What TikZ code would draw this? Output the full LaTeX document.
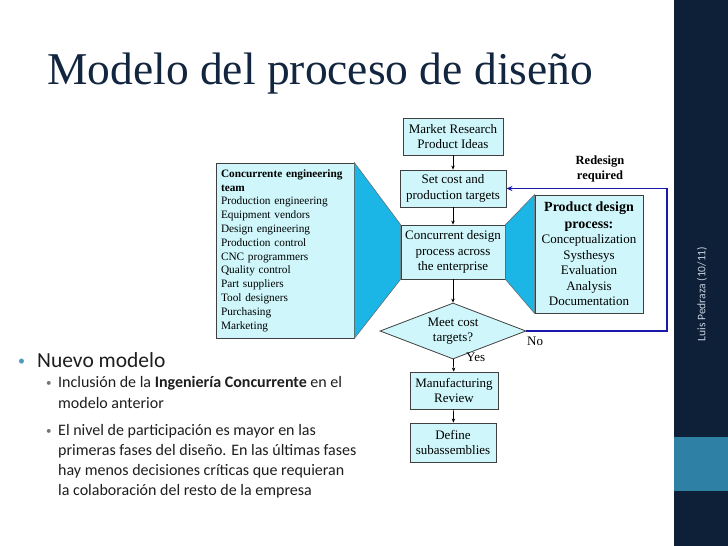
\documentclass[tikz,border=0pt]{standalone}
\usepackage{fontspec}
\setmainfont{Liberation Serif}
\newfontfamily\carlito{Carlito}
\usetikzlibrary{shapes.geometric,arrows.meta}
\definecolor{boxfill}{HTML}{CFF7FB}
\definecolor{trapfill}{HTML}{1BB5E6}
\definecolor{blueline}{HTML}{1A1AAA}
\definecolor{band}{HTML}{0E1F38}
\definecolor{lightblock}{HTML}{2E80A4}
\definecolor{titlecol}{HTML}{132640}
\definecolor{bulletcol}{HTML}{4A9BC1}
\definecolor{bodycol}{HTML}{1E1E1E}
\definecolor{sidecol}{HTML}{C8D2DE}
\tikzset{
  fbox/.style={draw=black!75, line width=0.8pt, fill=boxfill, align=center, inner sep=0pt,
    font=\fontsize{13}{15.5}\selectfont},
  trap/.style={draw=black!60, line width=0.5pt, fill=trapfill},
  flow/.style={draw=black, line width=0.7pt, -{Stealth[length=4pt,width=3.5pt]}},
  back/.style={draw=blueline, line width=1.6pt, -{Stealth[length=6pt,width=5pt]}},
  lbl/.style={inner sep=0pt, font=\fontsize{13}{15.5}\selectfont},
  mainb/.style={anchor=base west, inner sep=0pt, text=bodycol, font=\carlito\fontsize{21.5}{26}\selectfont},
  subb/.style={anchor=base west, inner sep=0pt, text=bodycol, font=\carlito\fontsize{16}{20}\selectfont},
}
\begin{document}
\begin{tikzpicture}[x=1pt,y=-1pt]
\useasboundingbox (0,0) rectangle (728,546);
\fill[white] (0,0) rectangle (728,546);
% right band
\fill[band] (674,0) rectangle (728,546);
\fill[lightblock] (674,437) rectangle (728,491);
\node[rotate=90, text=sidecol, font=\carlito\fontsize{11.5}{13}\selectfont, inner sep=0pt] (side) at (702,294) {Luis Pedraza (10/11)};
% title
\node[anchor=base west, inner sep=0pt, text=titlecol, font=\fontsize{45.5}{50}\selectfont] (title) at (47,84) {Modelo del proceso de diseño};

% flow boxes
\node[fbox, minimum width=100pt, minimum height=37pt] (mr) at (453,136.5) {Market Research\\Product Ideas};
\node[fbox, minimum width=106pt, minimum height=37pt] (sc) at (453,188.5) {Set cost and\\production targets};
\node[fbox, minimum width=104pt, minimum height=54pt] (cd) at (453,252) {Concurrent design\\process across\\the enterprise};
\node[fbox, minimum width=138pt, minimum height=175pt, text width=128pt, align=left,
  font=\fontsize{11.3}{13.8}\selectfont] (team) at (285,250.5)
  {\textbf{Concurrente engineering team}\\Production engineering\\Equipment vendors\\Design engineering\\Production control\\CNC programmers\\Quality control\\Part suppliers\\Tool designers\\Purchasing\\Marketing};
\node[fbox, minimum width=108pt, minimum height=118pt] (pd) at (589,254)
  {{\fontsize{14}{16}\selectfont\textbf{Product design}}\\[1pt]{\fontsize{14}{16}\selectfont\textbf{process:}}\\Conceptualization\\Systhesys\\Evaluation\\Analysis\\Documentation};
% trapezoids
\draw[trap] (team.north east) -- (cd.north west) -- (cd.south west) -- (team.south east) -- cycle;
\draw[trap] (cd.north east) -- (pd.north west) -- (pd.south west) -- (cd.south east) -- cycle;
\node[fbox, diamond, aspect=2.6, minimum width=146pt, minimum height=56pt] (dm) at (453,331) {Meet cost\\targets?};
\node[fbox, minimum width=88pt, minimum height=37pt] (mf) at (454,390.5) {Manufacturing\\Review};
\node[fbox, minimum width=86pt, minimum height=39pt] (ds) at (453,442.5) {Define\\subassemblies};

% connectors
\draw[flow] (mr) -- (sc);
\draw[flow] (sc) -- (cd);
\draw[flow] (cd) -- (dm);
\draw[flow] (dm) -- (mf);
\draw[flow] (mf) -- (ds);
\coordinate (rr) at (667,0);
\draw[back] (dm.east) -| (rr |- sc.east) -- (sc.east);
\node[lbl, align=center, font=\bfseries\fontsize{12.5}{15}\selectfont] (redesign) at (600,169) {Redesign\\required};
\node[lbl, anchor=base west] (no) at (527,345) {No};
\node[lbl, anchor=base west] (yes) at (466,361) {Yes};

% bullets
\node[anchor=base west, inner sep=0pt, text=bulletcol, font=\carlito\fontsize{14}{16}\selectfont] (b0) at (18,365) {•};
\node[mainb] (t0) at (37,367) {Nuevo modelo};
\node[anchor=base west, inner sep=0pt, text=black!55, font=\carlito\fontsize{11}{13}\selectfont] (b1) at (46,386) {•};
\node[subb] (t1a) at (58,387) {Inclusión de la \textbf{Ingeniería Concurrente} en el};
\node[subb] (t1b) at (58,408) {modelo anterior};
\node[anchor=base west, inner sep=0pt, text=black!55, font=\carlito\fontsize{11}{13}\selectfont] (b2) at (46,434) {•};
\node[subb] (t2a) at (58,435) {El nivel de participación es mayor en las};
\node[subb] (t2b) at (58,455) {primeras fases del diseño. En las últimas fases};
\node[subb] (t2c) at (58,475) {hay menos decisiones críticas que requieran};
\node[subb] (t2d) at (58,495) {la colaboración del resto de la empresa};
\end{tikzpicture}
\end{document}
